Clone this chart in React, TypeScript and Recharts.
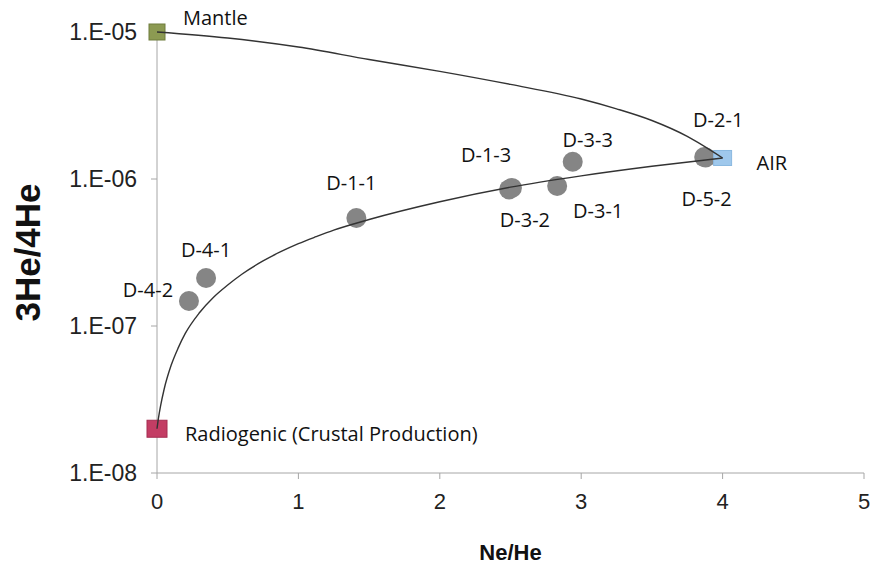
import { Scatter, ScatterChart, XAxis, YAxis } from "recharts";

// samples
const sampleNames = ["D-4-2", "D-4-1", "D-1-1", "D-1-3", "D-3-2", "D-3-1", "D-3-3", "D-2-1", "D-5-2"];
const sampleNeHe = [0.226, 0.347, 1.41, 2.49, 2.51, 2.83, 2.94, 3.87, 3.88];
const sampleRatio = [1.48e-7, 2.12e-7, 5.43e-7, 8.5e-7, 8.7e-7, 8.96e-7, 1.31e-6, 1.41e-6, 1.4e-6];

// end members
const endNames = ["Mantle", "Radiogenic (Crustal Production)", "AIR"];
const endNeHe = [0, 0, 4.0];
const endRatio = [1e-5, 2e-8, 1.39e-6];

// mixing curves
const upperX = [0, 0.5, 1, 1.5, 2, 2.5, 3, 3.25, 3.5, 3.75, 4];
const upperY = [1e-5, 9.1e-6, 7.9e-6, 6.5e-6, 5.4e-6, 4.4e-6, 3.5e-6, 3.0e-6, 2.5e-6, 1.95e-6, 1.39e-6];
const lowerX = [0, 0.01, 0.025, 0.05, 0.1, 0.15, 0.2, 0.3, 0.4, 0.5, 0.6, 0.75, 0.875, 1, 1.125, 1.25, 1.5, 2, 2.5, 3, 3.5, 4];
const lowerY = [
  2.0e-8, 2.35e-8, 2.85e-8, 3.7e-8, 5.4e-8, 7.1e-8, 8.9e-8, 1.23e-7, 1.57e-7, 1.9e-7, 2.25e-7, 2.77e-7,
  3.2e-7, 3.63e-7, 4.05e-7, 4.49e-7, 5.3e-7, 7.0e-7, 8.8e-7, 1.05e-6, 1.22e-6, 1.39e-6,
];

const xTicks = [0, 1, 2, 3, 4, 5];
const yTicks = [1e-8, 1e-7, 1e-6, 1e-5];

const labelOffsets: Record<string, [number, number]> = {
  "D-4-2": [-41, -11],
  "D-4-1": [0, -29],
  "D-1-1": [-5, -35],
  "D-1-3": [-23, -35],
  "D-3-2": [13, 32],
  "D-3-1": [41, 24],
  "D-3-3": [15, -22],
  "D-2-1": [14, -38],
  "D-5-2": [1, 41],
};

const endStyle: Record<string, { fill: string; stroke: string; w: number; h: number; dx: number; dy: number }> = {
  Mantle: { fill: "#8c9a52", stroke: "#6f7d3c", w: 16, h: 16, dx: 26, dy: -15 },
  "Radiogenic (Crustal Production)": { fill: "#c33d64", stroke: "#a52d50", w: 20, h: 17, dx: 28, dy: 5 },
  AIR: { fill: "#9fc8ec", stroke: "#8ab8e0", w: 18, h: 15, dx: 34, dy: 5 },
};

const samples = sampleNames.map((name, i) => ({ name, x: sampleNeHe[i], y: sampleRatio[i] }));
const ends = endNames.map((name, i) => ({ name, x: endNeHe[i], y: endRatio[i] }));
const upper = upperX.map((x, i) => ({ x, y: upperY[i] }));
const lower = lowerX.map((x, i) => ({ x, y: lowerY[i] }));

const labelFont = "'Open Sans', 'Noto Sans', sans-serif";
const axisFont = "'Liberation Sans', Arial, sans-serif";

function fmtExp(v: number) {
  const e = Math.round(Math.log10(v));
  return `1.E-${String(-e).padStart(2, "0")}`;
}

function SampleShape(props: any) {
  const { cx, cy, payload } = props;
  const [dx, dy] = labelOffsets[payload.name] || [0, -25];
  return (
    <g>
      <circle cx={cx} cy={cy} r={10} fill="#858585" />
      <text
        x={cx + dx}
        y={cy + dy}
        textAnchor="middle"
        dominantBaseline="central"
        fontFamily={labelFont}
        fontSize={20}
        fill="#111"
      >
        {payload.name}
      </text>
    </g>
  );
}

function EndShape(props: any) {
  const { cx, cy, payload } = props;
  const s = endStyle[payload.name];
  return (
    <g>
      <rect x={cx - s.w / 2} y={cy - s.h / 2} width={s.w} height={s.h} fill={s.fill} stroke={s.stroke} />
      <text
        x={cx + s.dx}
        y={cy + s.dy}
        textAnchor="start"
        dominantBaseline="central"
        fontFamily={labelFont}
        fontSize={20}
        fill="#111"
      >
        {payload.name}
      </text>
    </g>
  );
}

const noShape = () => <g />;

export default function App() {
  return (
    <div style={{ position: "fixed", left: 0, top: 0, width: 872, height: 565, background: "#fff" }}>
      <ScatterChart width={872} height={565} margin={{ top: 32, right: 8, left: 0, bottom: 0 }}>
        <XAxis
          type="number"
          dataKey="x"
          domain={[0, 5]}
          ticks={xTicks}
          height={92}
          stroke="#a6a6a6"
          tickSize={6}
          tickMargin={14}
          tick={{ fill: "#222", fontSize: 22, fontFamily: axisFont }}
          label={({ viewBox }: any) => (
            <text
              x={viewBox.x + viewBox.width / 2}
              y={552}
              textAnchor="middle"
              dominantBaseline="central"
              fontFamily={axisFont}
              fontWeight="bold"
              fontSize={22}
              fill="#111"
            >
              Ne/He
            </text>
          )}
        />
        <YAxis
          type="number"
          dataKey="y"
          scale="log"
          domain={[1e-8, 1e-5]}
          ticks={yTicks}
          width={157}
          stroke="#a6a6a6"
          tickSize={6}
          tickMargin={14}
          tickFormatter={fmtExp}
          tick={{ fill: "#222", fontSize: 23, fontFamily: axisFont }}
          label={({ viewBox }: any) => (
            <text
              x={27}
              y={viewBox.y + viewBox.height / 2}
              textAnchor="middle"
              dominantBaseline="central"
              transform={`rotate(-90 27 ${viewBox.y + viewBox.height / 2})`}
              fontFamily={axisFont}
              fontWeight="bold"
              fontSize={35}
              fill="#111"
            >
              3He/4He
            </text>
          )}
        />
        <Scatter data={samples} shape={SampleShape} isAnimationActive={false} />
        <Scatter data={ends} shape={EndShape} isAnimationActive={false} />
        <Scatter
          data={upper}
          line={{ stroke: "#333", strokeWidth: 1.4 }}
          lineType="joint"
          lineJointType="monotoneX"
          shape={noShape}
          isAnimationActive={false}
        />
        <Scatter
          data={lower}
          line={{ stroke: "#333", strokeWidth: 1.4 }}
          lineType="joint"
          lineJointType="monotoneX"
          shape={noShape}
          isAnimationActive={false}
        />
      </ScatterChart>
    </div>
  );
}
